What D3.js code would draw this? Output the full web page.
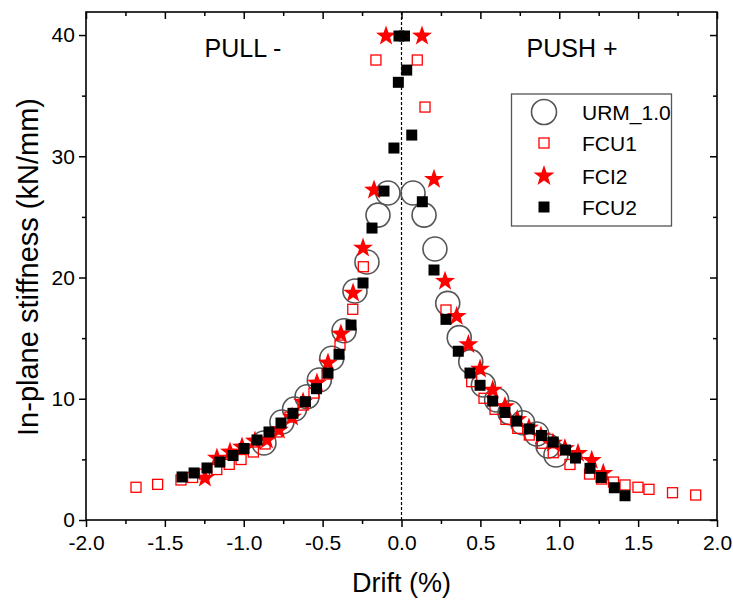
<!DOCTYPE html>
<html><head><meta charset="utf-8">
<script src="https://cdn.jsdelivr.net/npm/d3@7"></script>
<style>body{margin:0;background:#fff}svg{display:block}text{font-family:"Liberation Sans",Arial,sans-serif}</style>
</head><body><svg id="c" width="733" height="601"></svg>
<script>
// Data (drift %, stiffness kN/mm)
const urmX = [-0.872,-0.758,-0.678,-0.599,-0.521,-0.442,-0.364,-0.295,-0.219,-0.149,-0.086,0.073,0.143,0.212,0.293,0.366,0.439,0.519,0.603,0.688,0.768,0.857,0.929,0.979];
const urmY = [6.35,8.08,9.15,10.17,11.55,13.34,15.61,18.89,21.28,25.15,26.97,26.97,25.15,22.35,17.87,15.04,13.06,11.13,9.90,8.85,8.02,7.09,6.10,5.36];

const fcu1X = [-1.683,-1.546,-1.398,-1.324,-1.249,-1.171,-1.092,-1.017,-0.939,-0.865,-0.789,-0.707,-0.624,-0.555,-0.472,-0.390,-0.309,-0.242,-0.162,0.100,0.149,0.282,0.445,0.523,0.593,0.662,0.737,0.810,0.893,0.962,1.068,1.192,1.269,1.344,1.417,1.499,1.569,1.718,1.865];
const fcu1Y = [2.70,2.94,3.30,3.51,3.79,4.16,4.59,4.99,5.61,6.27,7.26,8.49,9.48,10.47,12.04,14.43,17.38,20.89,37.94,37.94,34.06,17.32,11.41,10.04,9.13,8.30,7.56,7.01,6.33,5.55,4.58,3.79,3.38,3.13,2.89,2.70,2.53,2.25,2.06];

const fci2X = [-1.246,-1.170,-1.087,-1.011,-0.929,-0.853,-0.777,-0.694,-0.624,-0.536,-0.466,-0.384,-0.307,-0.244,-0.174,-0.098,0.130,0.206,0.276,0.350,0.424,0.498,0.578,0.656,0.734,0.808,0.884,0.960,1.036,1.119,1.206,1.279];
const fci2Y = [3.46,5.11,5.61,6.02,6.52,6.60,7.42,8.49,9.73,11.30,12.95,15.34,18.72,22.43,27.22,39.92,39.92,28.10,19.70,16.80,14.47,12.45,10.72,9.36,8.29,7.59,6.93,6.35,5.90,5.50,4.92,3.85];

const fcu2X = [-1.391,-1.315,-1.233,-1.151,-1.068,-0.998,-0.916,-0.840,-0.764,-0.688,-0.609,-0.539,-0.466,-0.396,-0.320,-0.244,-0.187,-0.111,-0.048,-0.020,-0.016,0.019,0.033,0.065,0.132,0.206,0.282,0.360,0.434,0.498,0.578,0.656,0.730,0.810,0.887,0.962,1.040,1.103,1.195,1.265,1.349,1.417];
const fcu2Y = [3.55,3.88,4.29,4.78,5.32,5.90,6.60,7.26,8.00,8.80,9.76,10.83,12.12,13.67,16.08,19.55,24.08,27.13,30.68,36.10,39.92,39.92,37.11,31.75,26.25,20.62,16.55,13.92,12.12,11.11,9.81,8.87,8.16,7.51,6.97,6.43,5.77,5.11,4.26,3.51,2.66,2.00];

const xMajor = [-2.0,-1.5,-1.0,-0.5,0.0,0.5,1.0,1.5,2.0];
const xMinor = [-1.75,-1.25,-0.75,-0.25,0.25,0.75,1.25,1.75];
const yMajor = [0,10,20,30,40];
const yMinor = [5,15,25,35];
const legendNames = ["URM_1.0","FCU1","FCI2","FCU2"];

const svg = d3.select("#c");
const L=86, R=717, T=12, B=520;
const x = d3.scaleLinear().domain([-2,2]).range([L,R]);
const y = d3.scaleLinear().domain([0,41.9]).range([B,T]);
const fmt = v => (v<0?"-":"") + Math.abs(v).toFixed(1);

function starPath(Ro){
  const Ri = Ro*0.40; let p=[];
  for(let i=0;i<10;i++){const r=i%2?Ri:Ro; const a=-Math.PI/2+i*Math.PI/5; p.push([r*Math.cos(a), r*Math.sin(a)]);}
  return "M"+p.map(d=>d[0].toFixed(2)+","+d[1].toFixed(2)).join("L")+"Z";
}

// dashed zero line
svg.append("line").attr("x1",x(0)).attr("x2",x(0)).attr("y1",T).attr("y2",B)
  .attr("stroke","#000").attr("stroke-width",1.2).attr("stroke-dasharray","3,2");

// axes
const gB = svg.append("g").attr("transform",`translate(0,${B})`);
gB.call(d3.axisBottom(x).tickValues(xMajor).tickFormat(fmt).tickSize(7).tickSizeOuter(0));
gB.append("g").call(d3.axisBottom(x).tickValues(xMinor).tickFormat("").tickSize(4).tickSizeOuter(0));
const gT = svg.append("g").attr("transform",`translate(0,${T})`);
gT.call(d3.axisBottom(x).tickValues(xMajor).tickFormat("").tickSize(7).tickSizeOuter(0));
gT.append("g").call(d3.axisBottom(x).tickValues(xMinor).tickFormat("").tickSize(4).tickSizeOuter(0));
const gL = svg.append("g").attr("transform",`translate(${L},0)`);
gL.call(d3.axisLeft(y).tickValues(yMajor).tickFormat(d3.format("d")).tickSize(7).tickSizeOuter(0));
gL.append("g").call(d3.axisLeft(y).tickValues(yMinor).tickFormat("").tickSize(4).tickSizeOuter(0));
const gR = svg.append("g").attr("transform",`translate(${R},0)`);
gR.call(d3.axisLeft(y).tickValues(yMajor).tickFormat("").tickSize(7).tickSizeOuter(0));
gR.append("g").call(d3.axisLeft(y).tickValues(yMinor).tickFormat("").tickSize(4).tickSizeOuter(0));
svg.selectAll(".domain").remove();
svg.selectAll(".tick line").attr("stroke","#000").attr("stroke-width",1.5);
svg.selectAll(".tick text").attr("font-size",21).attr("fill","#000").attr("font-family","Liberation Sans, Arial, sans-serif");
gB.selectAll(".tick text").attr("dy","0.95em");
gL.selectAll(".tick text").attr("dx","-0.05em");
svg.append("rect").attr("x",L).attr("y",T).attr("width",R-L).attr("height",B-T)
  .attr("fill","none").attr("stroke","#000").attr("stroke-width",1.6);

// series
const urm = urmX.map((v,i)=>[v,urmY[i]]);
const fcu1 = fcu1X.map((v,i)=>[v,fcu1Y[i]]);
const fci2 = fci2X.map((v,i)=>[v,fci2Y[i]]);
const fcu2 = fcu2X.map((v,i)=>[v,fcu2Y[i]]);

svg.append("g").selectAll("circle").data(urm).join("circle")
  .attr("cx",d=>x(d[0])).attr("cy",d=>y(d[1])).attr("r",12)
  .attr("fill","none").attr("stroke","#555").attr("stroke-width",1.6);
svg.append("g").selectAll("rect").data(fcu1).join("rect")
  .attr("x",d=>x(d[0])-5).attr("y",d=>y(d[1])-5).attr("width",10).attr("height",10)
  .attr("fill","none").attr("stroke","#f00").attr("stroke-width",1.3);
svg.append("g").selectAll("path").data(fci2).join("path")
  .attr("d",starPath(10.5)).attr("transform",d=>`translate(${x(d[0])},${y(d[1])})`)
  .attr("fill","#f00");
svg.append("g").selectAll("rect").data(fcu2).join("rect")
  .attr("x",d=>x(d[0])-5.5).attr("y",d=>y(d[1])-5.5).attr("width",11).attr("height",11)
  .attr("fill","#000");

// annotations
svg.append("text").attr("x",243).attr("y",57).attr("text-anchor","middle").attr("font-size",25).text("PULL -");
svg.append("text").attr("x",572).attr("y",57).attr("text-anchor","middle").attr("font-size",25).text("PUSH +");

// axis titles
svg.append("text").attr("x",(L+R)/2).attr("y",592).attr("text-anchor","middle").attr("font-size",27).text("Drift (%)");
svg.append("text").attr("transform","translate(38,267) rotate(-90)").attr("text-anchor","middle").attr("font-size",29).text("In-plane stiffness (kN/mm)");

// legend
const lg = svg.append("g");
lg.append("rect").attr("x",511.5).attr("y",94).attr("width",160).attr("height",132)
  .attr("fill","#fff").attr("stroke","#555").attr("stroke-width",1.3);
const rowsY = [112,143,176,207];
lg.append("circle").attr("cx",544).attr("cy",rowsY[0]).attr("r",12.5).attr("fill","none").attr("stroke","#555").attr("stroke-width",1.6);
lg.append("rect").attr("x",539).attr("y",rowsY[1]-5).attr("width",10).attr("height",10).attr("fill","none").attr("stroke","#f00").attr("stroke-width",1.3);
lg.append("path").attr("d",starPath(11)).attr("transform",`translate(544,${rowsY[2]})`).attr("fill","#f00");
lg.append("rect").attr("x",538.5).attr("y",rowsY[3]-5.5).attr("width",11).attr("height",11).attr("fill","#000");
lg.selectAll("text.l").data(legendNames).join("text").attr("class","l")
  .attr("x",582).attr("y",(d,i)=>rowsY[i]).attr("dy","0.36em").attr("font-size",21).text(d=>d);
</script></body></html>
